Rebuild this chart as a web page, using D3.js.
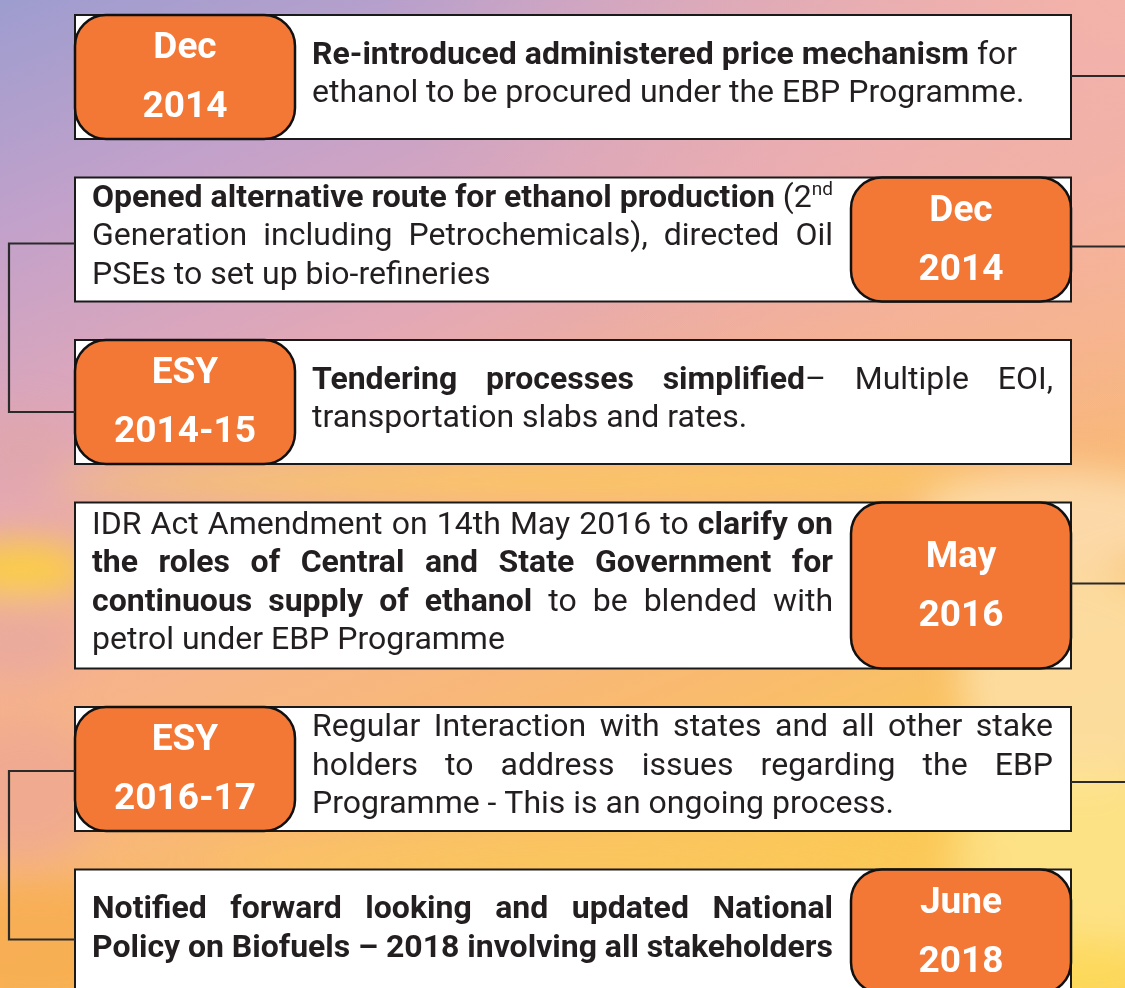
<!DOCTYPE html>
<html>
<head>
<meta charset="utf-8">
<script src="https://cdn.jsdelivr.net/npm/d3@7"></script>
<style>
  html, body { margin: 0; padding: 0; overflow: hidden; background: #f6b58e; }
  text { font-family: Roboto, "Noto Sans", sans-serif; }
</style>
</head>
<body>
<svg id="chart"></svg>
<script>
// ---- data: one entry per milestone, top to bottom ----
const dates = [
  ["Dec", "2014"],
  ["Dec", "2014"],
  ["ESY", "2014-15"],
  ["May", "2016"],
  ["ESY", "2016-17"],
  ["June", "2018"],
];

// **bold**, ^superscript^ ; one string per printed line
const notes = [
  ["**Re-introduced administered price mechanism** for",
   "ethanol to be procured under the EBP Programme."],
  ["**Opened alternative route for ethanol production** (2^nd^",
   "Generation including Petrochemicals), directed Oil",
   "PSEs to set up bio-refineries"],
  ["**Tendering processes simplified**– Multiple EOI,",
   "transportation slabs and rates."],
  ["IDR Act Amendment on 14th May 2016 to **clarify on**",
   "**the roles of Central and State Government for**",
   "**continuous supply of ethanol** to be blended with",
   "petrol under EBP Programme"],
  ["Regular Interaction with states and all other stake",
   "holders to address issues regarding the EBP",
   "Programme - This is an ongoing process."],
  ["**Notified forward looking and updated National**",
   "**Policy on Biofuels – 2018 involving all stakeholders**"],
];

const alignment = ["left", "justify", "justify", "justify", "justify", "justify"];

// ---- layout ----
const W = 1125, H = 988;
const boxLeft = 75, boxRight = 1071, pillW = 220;
const top0 = 15, gap = 38.5, lineH = 38.5;
const bodySize = 32, dateSize = 37;
const ink = "#231f20", orange = "#f37735";
// connector stubs (offset from box top)
const rightStubs = [[0, 61], [1, 69], [3, 81], [4, 75]];
const leftBrackets = [[[1, 66], [2, 72]], [[4, 64], [5, 70]]];

const svg = d3.select("#chart").attr("width", W).attr("height", H);
const defs = svg.append("defs");

// background gradient
const bg = defs.append("linearGradient").attr("id", "bg")
  .attr("x1", 0).attr("y1", 0).attr("x2", 0.45).attr("y2", 1);
[[0, "#9d9dcf"], [0.2, "#c3a1ca"], [0.4, "#e3a8b6"], [0.58, "#f6b28e"], [0.8, "#f9ba70"], [1, "#fbc955"]]
  .forEach(s => bg.append("stop").attr("offset", s[0]).attr("stop-color", s[1]));

const pinkTR = defs.append("radialGradient").attr("id", "pinkTR").attr("cx", 1).attr("cy", 0).attr("r", 0.9);
pinkTR.append("stop").attr("offset", 0).attr("stop-color", "#f4b3a9").attr("stop-opacity", 1);
pinkTR.append("stop").attr("offset", 1).attr("stop-color", "#f4b3a9").attr("stop-opacity", 0);

defs.append("filter").attr("id", "blur").attr("x", "-50%").attr("y", "-50%").attr("width", "200%").attr("height", "200%")
  .append("feGaussianBlur").attr("stdDeviation", 18);

svg.append("rect").attr("width", W).attr("height", H).attr("fill", "url(#bg)");
svg.append("rect").attr("x", 300).attr("width", W - 300).attr("height", 520).attr("fill", "url(#pinkTR)");

const blobs = [
  [20, 570, 70, 28, "#fdd23a", 0.9],
  [560, 480, 520, 18, "#fdd24a", 0.7],
  [1060, 520, 140, 50, "#fde0b6", 0.8],
  [1080, 680, 120, 110, "#fde1ac", 0.8],
  [1090, 860, 140, 90, "#fde791", 0.8],
  [950, 975, 260, 45, "#fddc5c", 0.8],
  [40, 950, 140, 70, "#f7a94a", 0.7],
  [25, 790, 80, 70, "#eda793", 0.8],
  [20, 640, 60, 40, "#e8a99f", 0.8],
  [20, 450, 60, 40, "#e0a5aa", 0.7],
  [600, 860, 400, 22, "#fcc85e", 0.6],
];
svg.append("g").attr("filter", "url(#blur)")
  .selectAll("ellipse").data(blobs).join("ellipse")
  .attr("cx", d => d[0]).attr("cy", d => d[1])
  .attr("rx", d => d[2]).attr("ry", d => d[3])
  .attr("fill", d => d[4]).attr("opacity", d => d[5]);

// row geometry from the number of lines
const heights = notes.map(n => n.length > 3 ? 166 : 124);
const tops = [];
heights.reduce((y, h) => { tops.push(y); return y + h + gap; }, top0);

// parse the tiny markup into words made of styled pieces
function tokenise(str) {
  const words = [];
  let cur = [], bold = false, sup = false;
  str.split(/(\*\*|\^)/).forEach(part => {
    if (part === "**") { bold = !bold; return; }
    if (part === "^") { sup = !sup; return; }
    const bits = part.split(" ");
    bits.forEach((b, i) => {
      if (i > 0 && cur.length) { words.push(cur); cur = []; }
      if (b) cur.push({ text: b, bold, sup });
    });
  });
  if (cur.length) words.push(cur);
  return words;
}

function drawLine(g, str, x0, x1, y, justify) {
  const words = tokenise(str);
  const nodes = words.map(w => {
    const t = g.append("text").attr("y", y).attr("fill", ink).attr("font-size", bodySize);
    w.forEach(p => {
      const ts = t.append("tspan").text(p.text).attr("font-weight", p.bold ? 700 : 400);
      if (p.sup) ts.attr("font-size", 19).attr("baseline-shift", 12);
    });
    return t;
  });
  const widths = nodes.map(n => n.node().getComputedTextLength());
  const total = d3.sum(widths);
  let space = bodySize * 0.2476;
  const fitted = (x1 - x0 - total) / Math.max(1, words.length - 1);
  if ((justify || fitted < space) && words.length > 1) space = fitted;
  let x = x0;
  nodes.forEach((n, i) => { n.attr("x", x); x += widths[i] + space; });
}

const rows = svg.append("g");
notes.forEach((lines, i) => {
  const y = tops[i], h = heights[i];
  const pillLeft = i % 2 === 0;
  const g = rows.append("g");

  g.append("rect")
    .attr("x", boxLeft).attr("y", y)
    .attr("width", boxRight - boxLeft).attr("height", h)
    .attr("fill", "#fff").attr("stroke", "#1a1a1a").attr("stroke-width", 2);

  const px = pillLeft ? boxLeft : boxRight - pillW;
  g.append("rect")
    .attr("x", px).attr("y", y)
    .attr("width", pillW).attr("height", h)
    .attr("rx", 31).attr("ry", 31)
    .attr("fill", orange).attr("stroke", "#111").attr("stroke-width", 2.5);

  const cx = px + pillW / 2, cy = y + h / 2;
  g.selectAll("text.date").data(dates[i]).join("text")
    .attr("class", "date")
    .attr("x", cx).attr("y", (d, k) => cy + (k === 0 ? -19 : 40))
    .attr("text-anchor", "middle")
    .attr("font-size", dateSize).attr("font-weight", 700)
    .attr("fill", "#fff")
    .text(d => d);

  const tx0 = pillLeft ? 312 : 92;
  const tx1 = pillLeft ? 1053 : 833;
  const firstBase = y + (h - lines.length * lineH) / 2 + 25;
  lines.forEach((ln, k) => {
    const last = k === lines.length - 1;
    drawLine(g, ln, tx0, tx1, firstBase + k * lineH, alignment[i] === "justify" && !last);
  });
});

// connectors
const conn = svg.append("g").attr("stroke", "#2a2a2a").attr("stroke-width", 2.2).attr("fill", "none");
rightStubs.forEach(([r, off]) => {
  const yy = tops[r] + off;
  conn.append("line").attr("x1", boxRight).attr("x2", W + 2).attr("y1", yy).attr("y2", yy);
});
leftBrackets.forEach(([[ra, oa], [rb, ob]]) => {
  const ya = tops[ra] + oa, yb = tops[rb] + ob;
  conn.append("path").attr("d", `M${boxLeft},${ya}H9V${yb}H${boxLeft}`);
});
</script>
</body>
</html>
